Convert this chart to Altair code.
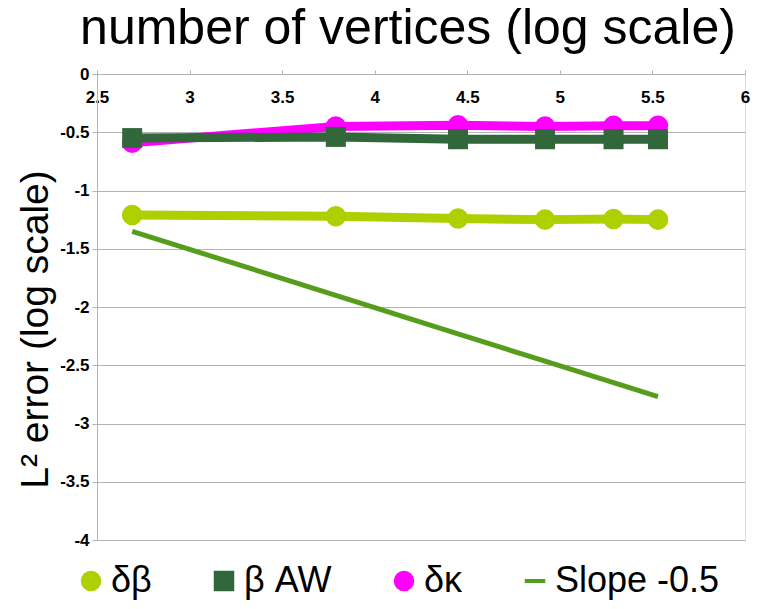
import altair as alt
import pandas as pd

x_vals = [2.69, 3.79, 4.45, 4.92, 5.29, 5.53]
delta_beta = [-1.21, -1.22, -1.24, -1.25, -1.245, -1.25]
beta_aw = [-0.55, -0.54, -0.56, -0.56, -0.56, -0.56]
delta_kappa = [-0.59, -0.45, -0.44, -0.45, -0.445, -0.445]
slope_line = [-1.35, -1.90, -2.23, -2.465, -2.65, -2.77]

series_names = ["δβ", "β AW", "δκ", "Slope -0.5"]
series_colors = ["#aecf00", "#31673a", "#ff00ff", "#579d1c"]
series_shapes = ["circle", "square", "circle", "M-1,-0.2H1V0.2H-1Z"]
x_ticks = [2.5, 3, 3.5, 4, 4.5, 5, 5.5, 6]
y_ticks = [0, -0.5, -1, -1.5, -2, -2.5, -3, -3.5, -4]

rows = []
for name, vals in zip(series_names, [delta_beta, beta_aw, delta_kappa, slope_line]):
    for xv, yv in zip(x_vals, vals):
        rows.append({"series": name, "x": xv, "y": yv})
df = pd.DataFrame(rows)

FONT = "Liberation Sans"

color_scale = alt.Scale(domain=series_names, range=series_colors)
shape_scale = alt.Scale(domain=series_names, range=series_shapes)
legend = alt.Legend(
    title=None, orient="none", direction="horizontal", legendX=-24, legendY=489,
    labelFont=FONT, labelFontSize=36, labelColor="#000000", symbolSize=420,
    symbolStrokeWidth=0, columnPadding=54, labelOffset=2, padding=0,
    symbolOpacity=1, labelLimit=400,
)

x_enc = alt.X("x:Q", scale=alt.Scale(domain=[2.5, 6], nice=False, zero=False),
              axis=alt.Axis(orient="top", values=x_ticks, title=None, grid=False,
                            labelExpr="toString(datum.value)", labelFont=FONT,
                            labelFontSize=17, labelFontWeight="bold", labelColor="#000000",
                            labelBaseline="middle", labelPadding=-27, tickSize=4,
                            tickColor="#b3b3b3", domainColor="#b3b3b3", labelFlush=False))
y_enc = alt.Y("y:Q", scale=alt.Scale(domain=[-4, 0], nice=False, zero=False),
              axis=alt.Axis(values=y_ticks, title="L² error (log scale)",
                            labelExpr="toString(datum.value)", labelFont=FONT,
                            labelFontSize=17, labelFontWeight="bold", labelColor="#000000",
                            tickSize=5, labelPadding=3, tickColor="#b3b3b3",
                            domainColor="#b3b3b3", gridColor="#b3b3b3", grid=True,
                            titleFont=FONT, titleFontSize=39, titleFontWeight="normal",
                            titleColor="#000000", titleX=-62, titleY=255, titleAngle=-90,
                            titleAlign="center", titleBaseline="middle", labelFlush=False))

base = alt.Chart(df)
layers = []
for name in ["Slope -0.5", "δβ", "δκ", "β AW"]:
    sub = base.transform_filter(alt.datum.series == name)
    width = 5 if name == "Slope -0.5" else 9
    layers.append(sub.mark_line(strokeWidth=width).encode(
        x=x_enc, y=y_enc,
        color=alt.Color("series:N", scale=color_scale, legend=legend)))
    if name != "Slope -0.5":
        size = 400 if name == "β AW" else 420
        layers.append(sub.mark_point(filled=True, opacity=1, size=size).encode(
            x=x_enc, y=y_enc,
            color=alt.Color("series:N", scale=color_scale, legend=legend),
            shape=alt.Shape("series:N", scale=shape_scale, legend=legend)))

chart = alt.layer(*layers).properties(
    width=648, height=466,
    title=alt.TitleParams("number of vertices (log scale)", font=FONT, fontSize=50,
                          fontWeight="normal", color="#000000", anchor="middle",
                          offset=11, dx=-13),
    autosize=alt.AutoSizeParams(type="none"),
    padding={"left": 89, "top": 66, "right": 12, "bottom": 60},
).configure_view(stroke="#b3b3b3").configure(background="white")

chart.save("out.html", embed_options={"renderer": "svg", "actions": False})
